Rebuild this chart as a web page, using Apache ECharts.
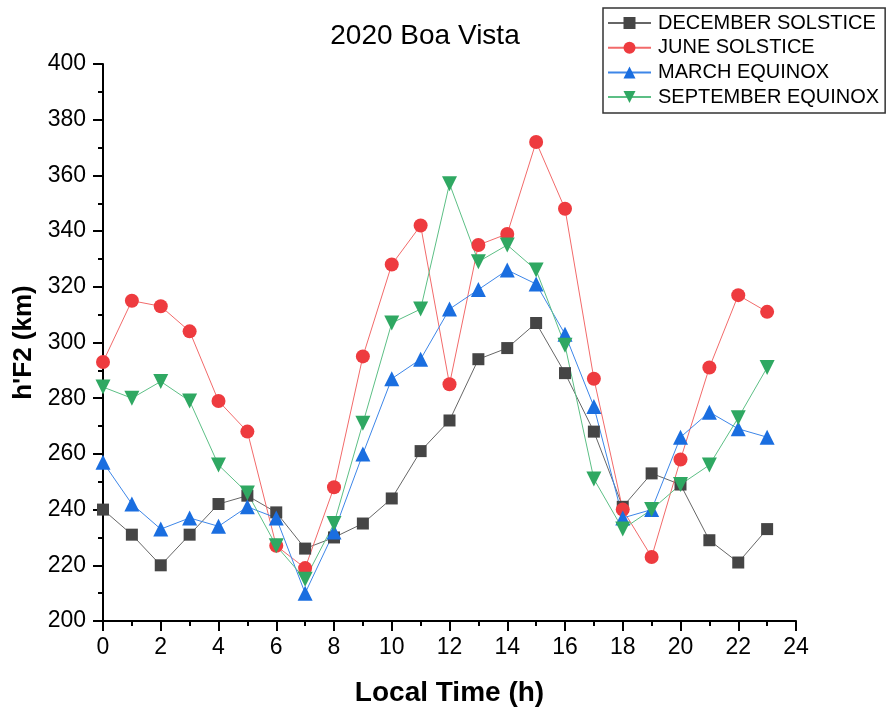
<!DOCTYPE html>
<html>
<head>
<meta charset="utf-8">
<script src="https://cdn.jsdelivr.net/npm/echarts@6/dist/echarts.min.js"></script>
<style>html,body{margin:0;padding:0;background:#fff}#c{width:887px;height:713px}</style>
</head>
<body>
<div id="c"></div>
<script>
var hours = [0,1,2,3,4,5,6,7,8,9,10,11,12,13,14,15,16,17,18,19,20,21,22,23];
var december = [240,231,220,231,242,245,239,226,230,235,244,261,272,294,298,307,289,268,241,253,249,229,221,233];
var june = [293,315,313,304,279,268,227,219,248,295,328,342,285,335,339,372,348,287,240,223,258,291,317,311];
var march = [257,242,233,237,234,241,237,210,232,260,287,294,312,319,326,321,303,277,237,240,266,275,269,266];
var september = [284,280,286,279,256,246,227,215,235,271,307,312,357,329,335,326,299,251,233,240,249,256,273,291];
var seriesNames = ['DECEMBER SOLSTICE','JUNE SOLSTICE','MARCH EQUINOX','SEPTEMBER EQUINOX'];

function pairs(vals){ return hours.map(function(h,i){ return [h, vals[i]]; }); }

var chart = echarts.init(document.getElementById('c'), null, {renderer:'canvas'});
var font = 'Liberation Sans, Arial, sans-serif';
function mk(name, vals, symbol, size, color, lineColor, rotate){
  return {
    name: name, type: 'line', data: pairs(vals),
    symbol: symbol, symbolSize: size, symbolRotate: rotate || 0,
    itemStyle: {color: color, borderWidth: 0},
    lineStyle: {color: lineColor, width: 1},
    emphasis: {disabled: true}, animation: false
  };
}
chart.setOption({
  animation: false,
  title: {text: '2020 Boa Vista', left: 420, top: 17, textAlign: 'center',
    textStyle: {fontFamily: font, fontSize: 28, fontWeight: 'normal', color: '#000'}},
  legend: {
    orient: 'vertical', left: 603, top: 8,
    data: seriesNames,
    borderColor: '#333', borderWidth: 1.5, padding: [5, 6, 6, 4],
    itemWidth: 43, itemHeight: 15, itemGap: 4.7,
    textStyle: {fontFamily: font, fontSize: 20, color: '#000', padding: [0,0,0,2]}
  },
  grid: {left: 103, right: 91, top: 64, bottom: 92, containLabel: false},
  xAxis: {
    type: 'value', min: 0, max: 24, interval: 2,
    name: 'Local Time (h)', nameLocation: 'middle', nameGap: 58,
    nameTextStyle: {fontFamily: font, fontSize: 28, fontWeight: 'bold', color: '#000'},
    axisLine: {show: true, lineStyle: {color: '#000', width: 2}},
    axisTick: {show: true, inside: false, length: 10, lineStyle: {color: '#000', width: 2}},
    minorTick: {show: true, splitNumber: 2, length: 5, lineStyle: {color: '#000', width: 2}},
    axisLabel: {fontFamily: font, fontSize: 23, color: '#000', margin: 15},
    splitLine: {show: false}
  },
  yAxis: {
    type: 'value', min: 200, max: 400, interval: 20,
    name: "h'F2 (km)", nameLocation: 'middle', nameGap: 54, nameRotate: 90,
    nameTextStyle: {fontFamily: font, fontSize: 26, fontWeight: 'bold', color: '#000'},
    axisLine: {show: true, lineStyle: {color: '#000', width: 2}},
    axisTick: {show: true, inside: false, length: 10, lineStyle: {color: '#000', width: 2}},
    minorTick: {show: true, splitNumber: 2, length: 5, lineStyle: {color: '#000', width: 2}},
    axisLabel: {fontFamily: font, fontSize: 23, color: '#000', margin: 17},
    splitLine: {show: false}
  },
  series: [
    mk(seriesNames[0], december, 'rect', 12, '#454545', '#666666'),
    mk(seriesNames[1], june, 'circle', 14, '#ee3b3f', '#f26a6a'),
    mk(seriesNames[2], march, 'triangle', 15, '#1a6ee0', '#3d86e8'),
    mk(seriesNames[3], september, 'triangle', 15, '#2fa862', '#5cbf85', 180)
  ]
});
</script>
</body>
</html>
